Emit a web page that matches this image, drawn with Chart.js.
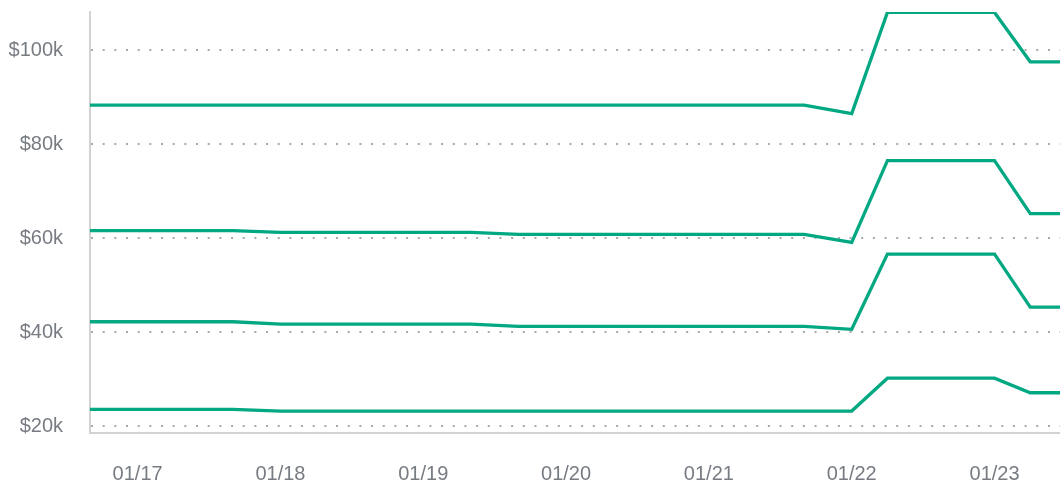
<!DOCTYPE html>
<html>
<head>
<meta charset="utf-8">
<script src="https://cdn.jsdelivr.net/npm/chart.js@4/dist/chart.umd.min.js"></script>
<style>
  html, body { margin: 0; padding: 0; background: #fff; }
  #wrap { width: 1060px; height: 486px; position: relative; }
</style>
</head>
<body>
<div id="wrap"><canvas id="chart"></canvas></div>
<script>
// hours from 01/17 00:00
const hours = [-8, 16, 24, 56, 64, 112, 120, 126, 144, 150, 155];

// values in $k
const series1 = [88.3, 88.3, 88.3, 88.3, 88.3, 88.3, 86.5, 108.0, 108.0, 97.5, 97.5];
const series2 = [61.6, 61.6, 61.2, 61.2, 60.8, 60.8, 59.1, 76.5, 76.5, 65.2, 65.2];
const series3 = [42.2, 42.2, 41.7, 41.7, 41.2, 41.2, 40.6, 56.6, 56.6, 45.3, 45.3];
const series4 = [23.55, 23.55, 23.2, 23.2, 23.2, 23.2, 23.2, 30.2, 30.2, 27.1, 27.1];

const dayTicks = [0, 24, 48, 72, 96, 120, 144];
const dayLabels = ['01/17', '01/18', '01/19', '01/20', '01/21', '01/22', '01/23'];
const yTicks = [20, 40, 60, 80, 100];

const LINE = '#02a882';
const TEXT = '#777c83';
const AXIS = '#d2d2d2';
const FONT = { family: 'Liberation Sans, Arial, sans-serif', size: 20 };

function toPoints(vals) {
    return vals.map((v, i) => ({ x: hours[i], y: v }));
}

const datasets = [series1, series2, series3, series4].map(s => ({
    data: toPoints(s),
    borderColor: LINE,
    borderWidth: 3.3,
    pointRadius: 0,
    tension: 0,
    fill: false
}));

new Chart(document.getElementById('chart'), {
    type: 'line',
    data: { datasets },
    options: {
        responsive: true,
        maintainAspectRatio: false,
        animation: false,
        layout: { padding: { top: 12, right: 0, bottom: 0, left: 0 } },
        plugins: { legend: { display: false }, tooltip: { enabled: false } },
        scales: {
            x: {
                type: 'linear',
                min: -8,
                max: 155,
                afterBuildTicks: scale => { scale.ticks = dayTicks.map(v => ({ value: v })); },
                afterFit: scale => {
                    scale.height = 53.3;
                    scale.paddingLeft = 0;
                    scale.paddingRight = 0;
                },
                grid: { display: false },
                border: { color: AXIS, width: 2 },
                ticks: {
                    autoSkip: false,
                    maxRotation: 0,
                    padding: 22,
                    color: TEXT,
                    font: FONT,
                    callback: v => dayLabels[dayTicks.indexOf(v)]
                }
            },
            y: {
                min: 18.6,
                max: 108.1,
                afterBuildTicks: scale => { scale.ticks = yTicks.map(v => ({ value: v })); },
                afterFit: scale => {
                    scale.width = 90;
                    scale.paddingTop = 0;
                    scale.paddingBottom = 0;
                },
                grid: { color: '#a8a8a8', lineWidth: 2, drawTicks: false },
                border: { color: AXIS, width: 2, dash: [2, 9.67] },
                ticks: {
                    padding: 27,
                    color: TEXT,
                    font: FONT,
                    callback: v => '$' + v + 'k'
                }
            }
        }
    }
});
</script>
</body>
</html>
